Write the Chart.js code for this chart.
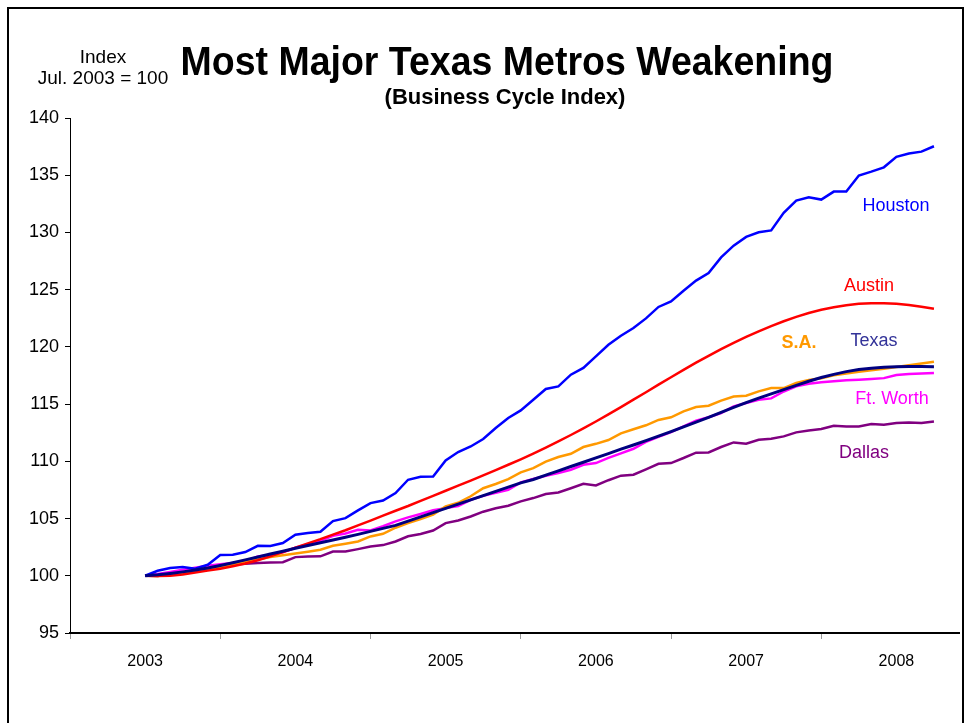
<!DOCTYPE html>
<html>
<head>
<meta charset="utf-8">
<title>Most Major Texas Metros Weakening</title>
<script src="https://cdn.jsdelivr.net/npm/chart.js@4/dist/chart.umd.min.js"></script>
<style>
  html, body { margin: 0; padding: 0; background: #fff; }
  body { width: 967px; height: 723px; overflow: hidden; position: relative; font-family: "Liberation Sans", Arial, sans-serif; }
  #frame { position: absolute; left: 7px; top: 7px; width: 953px; height: 800px; border: 2px solid #000; }
  #chart { position: absolute; left: 0; top: 0; }
  .txt { position: absolute; white-space: nowrap; color: #000; }
  #title { left: 507px; top: 62px; font-size: 37.5px; font-weight: bold; transform: translate(-50%, -50%) scaleY(1.06); }
  #subtitle { left: 505px; top: 97px; font-size: 22px; font-weight: bold; transform: translate(-50%, -50%); }
  #unit { left: 103px; top: 67px; font-size: 19px; text-align: center; line-height: 21px; transform: translate(-50%, -50%); }
  .lab { font-size: 18px; transform: translate(-50%, -50%); }
</style>
</head>
<body>
<div id="frame"></div>
<canvas id="chart" width="967" height="723"></canvas>
<div class="txt" id="unit">Index<br>Jul. 2003 = 100</div>
<div class="txt" id="title">Most Major Texas Metros Weakening</div>
<div class="txt" id="subtitle">(Business Cycle Index)</div>
<div class="txt lab" style="left:896px; top:205px; color:#0000ff;">Houston</div>
<div class="txt lab" style="left:869px; top:285px; color:#ff0000;">Austin</div>
<div class="txt lab" style="left:799px; top:342px; color:#ff9900; font-weight:bold;">S.A.</div>
<div class="txt lab" style="left:874px; top:340px; color:#333399;">Texas</div>
<div class="txt lab" style="left:892px; top:398px; color:#ff00ff;">Ft. Worth</div>
<div class="txt lab" style="left:864px; top:452px; color:#800080;">Dallas</div>
<script>
"use strict";

/* ---------------- DATA (monthly, Jul 2003 = 100) ---------------- */

const START_MONTH = 7;   // July 2003
const YEARS = ["2003", "2004", "2005", "2006", "2007", "2008"];
const Y_TICKS = [95, 100, 105, 110, 115, 120, 125, 130, 135, 140];

const TEXAS = [
  100.00, 100.08, 100.20, 100.34, 100.50, 100.68, 100.90, 101.14, 101.39, 101.64,
  101.90, 102.15, 102.40, 102.64, 102.88, 103.12, 103.37, 103.62, 103.88, 104.14,
  104.40, 104.77, 105.15, 105.52, 105.89, 106.26, 106.63, 107.00, 107.38, 107.75,
  108.12, 108.41, 108.79, 109.17, 109.55, 109.92, 110.30, 110.68, 111.06, 111.43,
  111.81, 112.20, 112.60, 113.01, 113.42, 113.85, 114.28, 114.71, 115.13, 115.53,
  115.90, 116.27, 116.64, 117.00, 117.32, 117.60, 117.84, 118.02, 118.14, 118.22,
  118.26, 118.28, 118.28, 118.27,
];

const HOUSTON = [
  100.00, 100.44, 100.67, 100.76, 100.61, 100.96, 101.81, 101.84, 102.07, 102.62,
  102.60, 102.86, 103.58, 103.73, 103.85, 104.78, 105.04, 105.71, 106.35, 106.58,
  107.23, 108.39, 108.65, 108.68, 110.08, 110.81, 111.30, 111.95, 112.91, 113.79,
  114.45, 115.38, 116.32, 116.55, 117.57, 118.16, 119.17, 120.19, 120.98, 121.65,
  122.49, 123.49, 123.98, 124.91, 125.79, 126.46, 127.82, 128.85, 129.61, 130.01,
  130.18, 131.71, 132.78, 133.07, 132.87, 133.57, 133.57, 134.97, 135.31, 135.69,
  136.60, 136.89, 137.06, 137.53,
];

const AUSTIN = [
  100.00,  99.97, 100.00, 100.12, 100.28, 100.45, 100.62, 100.84, 101.08, 101.36,
  101.70, 102.07, 102.45, 102.83, 103.20, 103.60, 103.98, 104.40, 104.82, 105.25,
  105.68, 106.10, 106.55, 106.98, 107.43, 107.87, 108.32, 108.77, 109.23, 109.70,
  110.18, 110.68, 111.20, 111.74, 112.30, 112.88, 113.48, 114.10, 114.74, 115.39,
  116.04, 116.70, 117.35, 117.99, 118.62, 119.22, 119.80, 120.35, 120.87, 121.36,
  121.82, 122.24, 122.62, 122.96, 123.24, 123.47, 123.64, 123.76, 123.82, 123.82,
  123.76, 123.66, 123.50, 123.33,
];

const SAN_ANTONIO = [
  100.00,  99.98, 100.08, 100.20, 100.38, 100.55, 100.75, 100.98, 101.20, 101.42,
  101.64, 101.80, 101.95, 102.10, 102.27, 102.62, 102.80, 103.00, 103.44, 103.67,
  104.20, 104.60, 104.95, 105.35, 106.06, 106.38, 106.95, 107.65, 108.02, 108.45,
  109.03, 109.41, 109.97, 110.38, 110.66, 111.25, 111.53, 111.86, 112.45, 112.80,
  113.15, 113.62, 113.85, 114.36, 114.74, 114.86, 115.30, 115.67, 115.73, 116.11,
  116.40, 116.40, 116.84, 117.10, 117.26, 117.52, 117.68, 117.82, 117.95, 118.08,
  118.25, 118.40, 118.55, 118.71,
];

const FT_WORTH = [
  100.00, 100.15, 100.33, 100.52, 100.70, 100.87, 101.00, 101.12, 101.25, 101.69,
  101.82, 102.05, 102.45, 102.75, 103.06, 103.50, 103.70, 104.02, 103.96, 104.33,
  104.75, 105.10, 105.40, 105.72, 105.91, 106.10, 106.64, 106.98, 107.25, 107.52,
  108.16, 108.45, 108.74, 108.98, 109.27, 109.70, 109.85, 110.30, 110.70, 111.10,
  111.70, 112.15, 112.55, 113.05, 113.55, 113.85, 114.22, 114.80, 115.10, 115.38,
  115.50, 116.10, 116.55, 116.78, 116.90, 117.00, 117.08, 117.13, 117.19, 117.27,
  117.54, 117.63, 117.68, 117.72,
];

const DALLAS = [
  100.00,  99.98, 100.10, 100.25, 100.42, 100.60, 100.81, 100.98, 101.06, 101.11,
  101.16, 101.18, 101.63, 101.69, 101.70, 102.12, 102.12, 102.33, 102.56, 102.68,
  103.00, 103.45, 103.65, 103.95, 104.60, 104.83, 105.18, 105.60, 105.90, 106.12,
  106.50, 106.79, 107.15, 107.28, 107.65, 108.04, 107.90, 108.35, 108.75, 108.83,
  109.30, 109.78, 109.85, 110.29, 110.76, 110.78, 111.25, 111.65, 111.54, 111.89,
  111.98, 112.18, 112.53, 112.70, 112.82, 113.11, 113.05, 113.05, 113.26, 113.20,
  113.35, 113.40, 113.35, 113.49,
];

/* ---------------- HELPERS ---------------- */

// x is months counted from Jan 2003, so Jul 2003 sits at 6
function toPoints(values) {
  const offset = START_MONTH - 1;
  return values.map((v, i) => ({ x: offset + i, y: v }));
}

function line(label, values, color, width) {
  return {
    label,
    data: toPoints(values),
    borderColor: color,
    backgroundColor: color,
    borderWidth: width,
    pointRadius: 0,
    tension: 0,
    fill: false,
  };
}

// tick marks at year edges, labels at mid-year
const xTickValues = [];
YEARS.forEach((y, i) => { xTickValues.push(i * 12, i * 12 + 6); });

function xTickLabel(value) {
  if (value % 12 !== 6) return "";
  return YEARS[(value - 6) / 12];
}

const FONT = "'Liberation Sans', Arial, sans-serif";

/* ---------------- CHART ---------------- */

new Chart(document.getElementById("chart"), {
  type: "line",
  data: {
    datasets: [
      // first dataset is painted last, so Texas sits on top
      line("Texas", TEXAS, "#000080", 3),
      line("Houston", HOUSTON, "#0000ff", 2.5),
      line("Austin", AUSTIN, "#ff0000", 2.5),
      line("S.A.", SAN_ANTONIO, "#ff9900", 2.5),
      line("Ft. Worth", FT_WORTH, "#ff00ff", 2.5),
      line("Dallas", DALLAS, "#800080", 2.5),
    ],
  },
  options: {
    responsive: false,
    animation: false,
    layout: { padding: { top: 118, right: 8, left: 0, bottom: 0 } },
    plugins: {
      legend: { display: false },
      tooltip: { enabled: false },
    },
    scales: {
      x: {
        type: "linear",
        min: 0,
        max: 71,
        afterFit: (s) => { s.height = 90; },
        afterBuildTicks: (s) => { s.ticks = xTickValues.map(v => ({ value: v })); },
        border: { color: "#000", width: 2 },
        grid: {
          drawOnChartArea: false,
          tickLength: 6,
          color: (ctx) => (ctx.tick && ctx.tick.value % 12 === 0 ? "#999" : "rgba(0,0,0,0)"),
        },
        ticks: {
          autoSkip: false,
          maxRotation: 0,
          padding: 13,
          color: "#000",
          font: { family: FONT, size: 16 },
          callback: xTickLabel,
        },
      },
      y: {
        min: 95,
        max: 140,
        afterFit: (s) => { s.width = 70; },
        afterBuildTicks: (s) => { s.ticks = Y_TICKS.map(v => ({ value: v })); },
        border: { color: "#000", width: 1 },
        grid: { drawOnChartArea: false, tickLength: 5, color: "#000" },
        ticks: {
          padding: 6,
          color: "#000",
          font: { family: FONT, size: 18 },
        },
      },
    },
  },
});
</script>
</body>
</html>
